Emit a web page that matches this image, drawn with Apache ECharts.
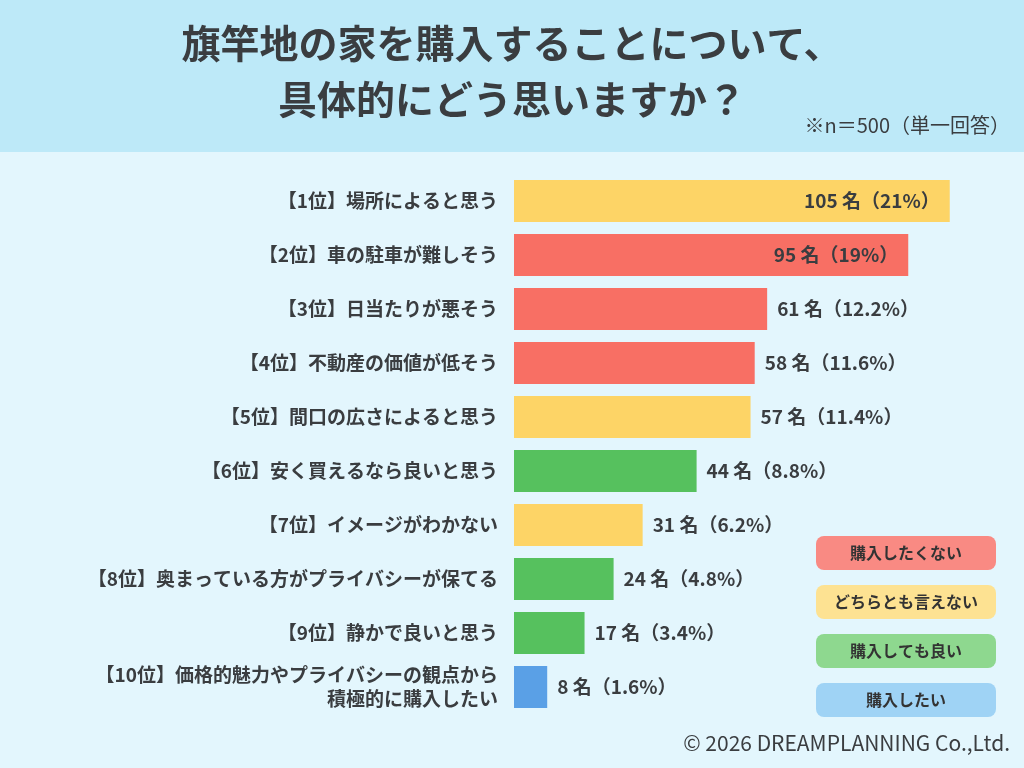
<!DOCTYPE html>
<html>
<head>
<meta charset="utf-8">
<script src="https://cdn.jsdelivr.net/npm/echarts@6/dist/echarts.min.js"></script>
<style>
  html, body { margin: 0; padding: 0; background: #e3f6fd; }
  #chart { width: 1024px; height: 768px; }
</style>
</head>
<body>
<div id="chart"></div>
<script>
// 設問データ
var categories = [
  '【1位】場所によると思う',
  '【2位】車の駐車が難しそう',
  '【3位】日当たりが悪そう',
  '【4位】不動産の価値が低そう',
  '【5位】間口の広さによると思う',
  '【6位】安く買えるなら良いと思う',
  '【7位】イメージがわかない',
  '【8位】奥まっている方がプライバシーが保てる',
  '【9位】静かで良いと思う',
  '【10位】価格的魅力やプライバシーの観点から\n積極的に購入したい'
];
var counts = [105, 95, 61, 58, 57, 44, 31, 24, 17, 8];
var percents = ['21', '19', '12.2', '11.6', '11.4', '8.8', '6.2', '4.8', '3.4', '1.6'];
// 0:購入したくない 1:どちらとも言えない 2:購入しても良い 3:購入したい
var groups = [1, 0, 0, 0, 1, 2, 1, 2, 2, 3];
var groupNames = ['購入したくない', 'どちらとも言えない', '購入しても良い', '購入したい'];
var titleLines = ['旗竿地の家を購入することについて、', '具体的にどう思いますか？'];

var barColors = ['#f86f64', '#fdd466', '#56c15e', '#5aa0e6'];
var legendColors = ['#f98a83', '#fde292', '#8ed88f', '#9fd3f5'];
var FONT = '"Noto Sans CJK JP", "Noto Sans", sans-serif';

var chart = echarts.init(document.getElementById('chart'));

var seriesData = counts.map(function (v, i) {
  var inside = v > 90; // 長いバーは内側にラベル
  return {
    value: v,
    itemStyle: { color: barColors[groups[i]] },
    label: {
      position: inside ? 'insideRight' : 'right',
      distance: 10
    }
  };
});

// 凡例（角丸ボックス）
var legendGraphics = groupNames.map(function (name, i) {
  return {
    type: 'group',
    left: 816,
    top: 536 + i * 49,
    z: 10,
    children: [
      {
        type: 'rect',
        shape: { x: 0, y: 0, width: 180, height: 34, r: 8 },
        style: { fill: legendColors[i] }
      },
      {
        type: 'text',
        style: {
          x: 90, y: 17,
          text: name,
          align: 'center',
          verticalAlign: 'middle',
          fill: '#333',
          font: 'bold 16px ' + FONT
        }
      }
    ]
  };
});

var titleGraphics = titleLines.map(function (line, i) {
  return {
    type: 'text',
    left: 'center',
    top: 24 + i * 56,
    style: {
      text: line,
      fill: '#3a3d40',
      font: 'bold 39px ' + FONT
    }
  };
});

var option = {
  backgroundColor: '#e3f6fd',
  grid: {
    left: 514,
    right: 12,
    top: 174,
    bottom: 54
  },
  xAxis: {
    type: 'value',
    min: 0,
    max: 120,
    show: false
  },
  yAxis: {
    type: 'category',
    inverse: true,
    data: categories,
    axisLine: { show: false },
    axisTick: { show: false },
    axisLabel: {
      margin: 16,
      fontFamily: FONT,
      fontSize: 19,
      fontWeight: 'bold',
      color: '#3a3d40',
      lineHeight: 24,
      align: 'right'
    }
  },
  series: [{
    type: 'bar',
    data: seriesData,
    barCategoryGap: '22%',
    label: {
      show: true,
      fontFamily: FONT,
      fontSize: 19,
      fontWeight: 'bold',
      color: '#3a3d40',
      formatter: function (p) {
        return counts[p.dataIndex] + ' 名（' + percents[p.dataIndex] + '%）';
      }
    }
  }],
  graphic: [
    {
      type: 'rect',
      left: 0, top: 0,
      shape: { width: 1024, height: 152 },
      style: { fill: '#bde9f8' },
      z: -1
    },
    {
      type: 'text',
      right: 14,
      top: 115,
      style: {
        text: '※n＝500（単一回答）',
        fill: '#3a3d40',
        font: '20px ' + FONT
      }
    },
    {
      type: 'text',
      right: 14,
      top: 733,
      style: {
        text: '© 2026 DREAMPLANNING Co.,Ltd.',
        fill: '#3a3d40',
        font: '21px ' + FONT
      }
    }
  ].concat(titleGraphics, legendGraphics)
};

chart.setOption(option);
</script>
</body>
</html>
